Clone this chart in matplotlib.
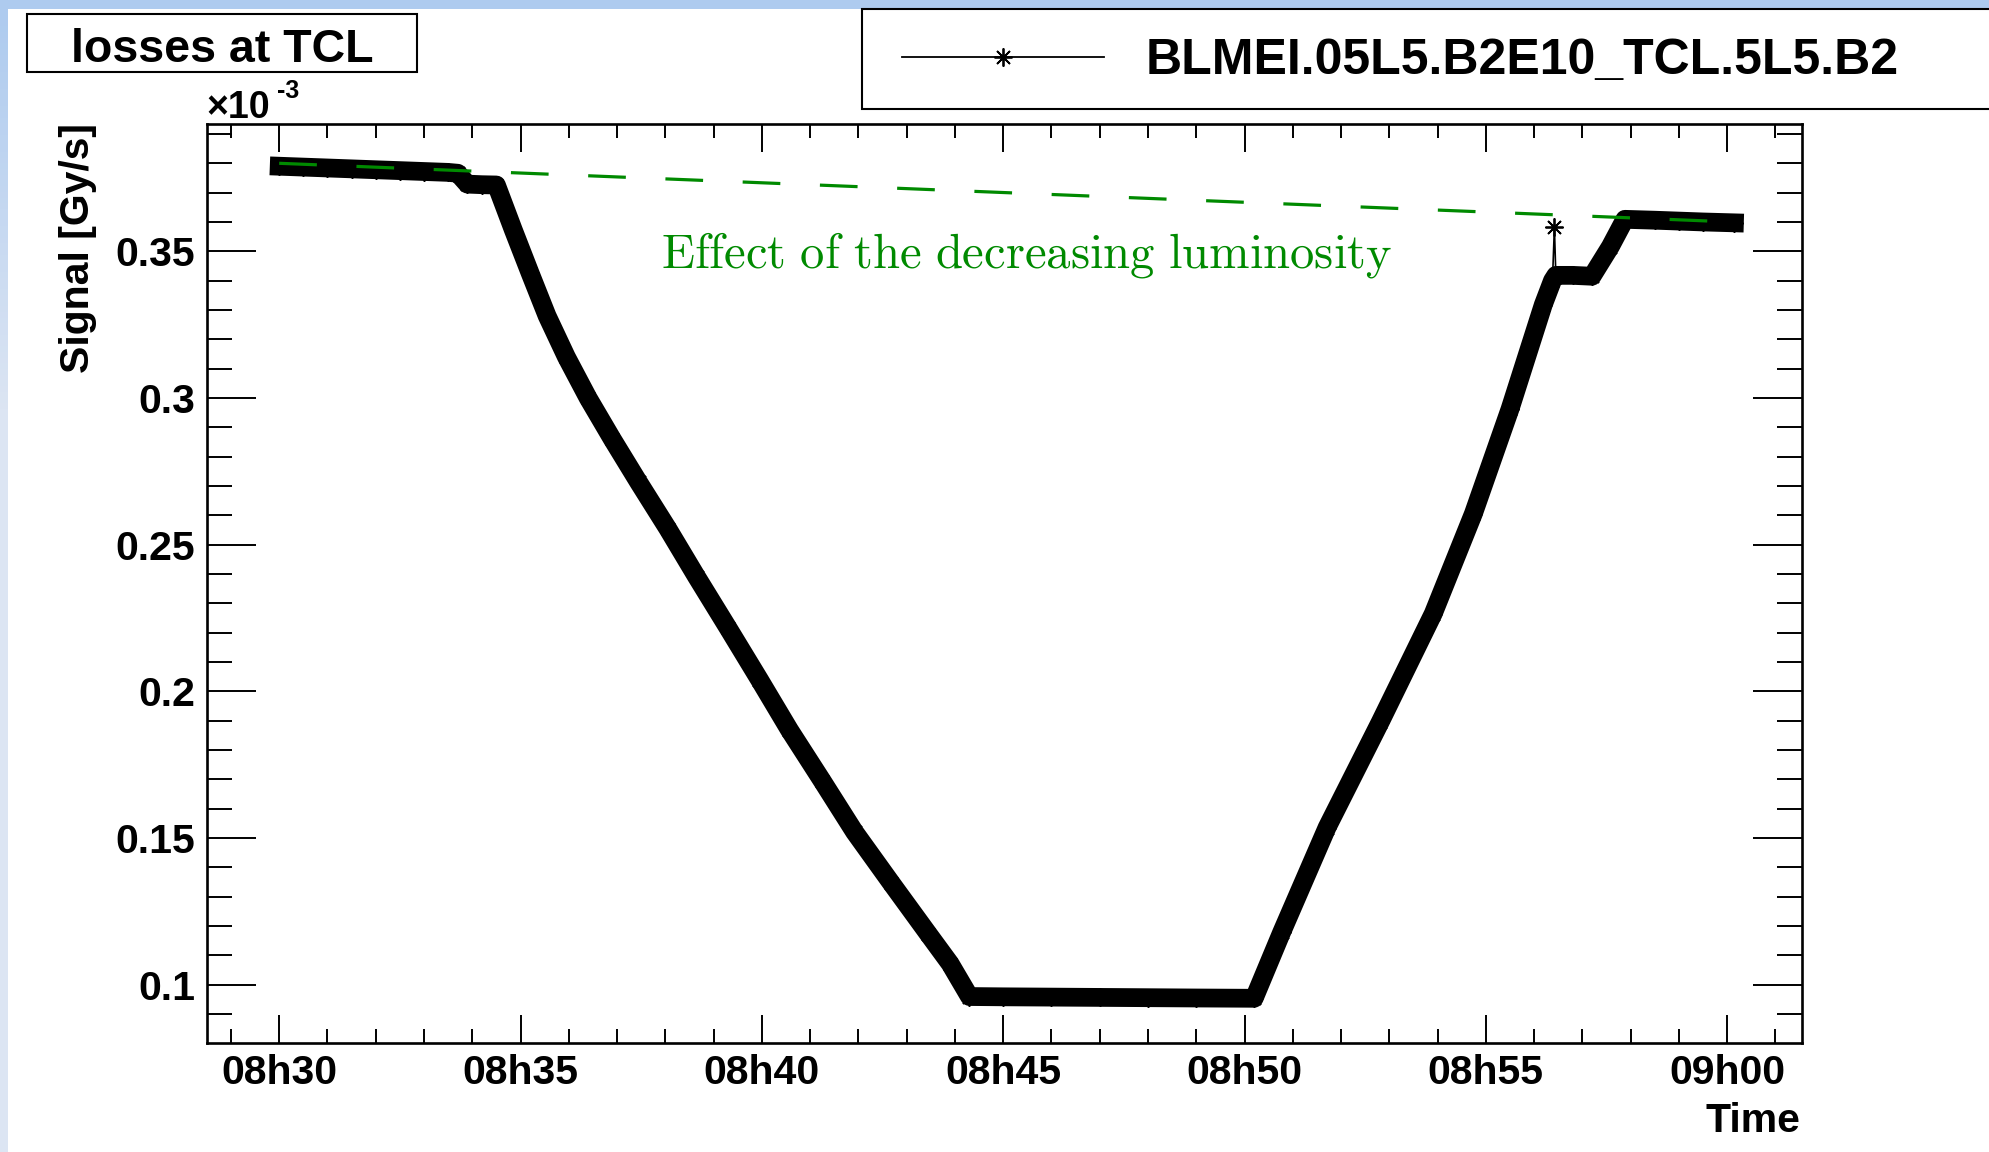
import numpy as np
import matplotlib
matplotlib.use("Agg")
import matplotlib.pyplot as plt
from matplotlib.patches import Rectangle
from matplotlib.lines import Line2D
from matplotlib.ticker import MultipleLocator, FixedLocator, FixedFormatter

# minutes after 08h30 and BLM signal in units of 1e-3 Gy/s
t_min = [0.0, 0.5, 1.0, 1.5, 2.0, 2.5, 3.0, 3.5, 3.7,
         3.9, 4.2, 4.5,
         4.85, 5.2, 5.55, 5.95, 6.4, 6.9, 7.45, 8.05, 8.65, 9.3, 9.95, 10.57,
         11.25, 11.92, 12.68, 13.45, 13.9, 14.3,
         15.0, 16.0, 17.0, 18.0, 19.0, 20.2,
         20.77, 21.71, 22.81, 23.91, 24.74, 25.5, 26.19, 26.38,
         26.42,
         26.45, 26.8, 27.2, 27.58, 27.88, 28.5, 29.0, 29.5, 30.15]
signal = [0.3790, 0.3787, 0.3784, 0.3781, 0.3778, 0.3775, 0.3772, 0.3769, 0.3766,
          0.3729, 0.3727, 0.3726,
          0.3573, 0.3425, 0.3280, 0.3140, 0.3000, 0.2860, 0.2712, 0.2555, 0.2390,
          0.2216, 0.2040, 0.1869, 0.1695, 0.1521, 0.1347, 0.1173, 0.1072, 0.0960,
          0.0959, 0.0958, 0.0957, 0.0956, 0.0955, 0.0954,
          0.1179, 0.1536, 0.1895, 0.2265, 0.2605, 0.2962, 0.3318, 0.3400,
          0.3582,
          0.3418, 0.3418, 0.3415, 0.3516, 0.3609, 0.3606, 0.3603, 0.3600, 0.3597]
spike_index = 44

# luminosity trend
lumi_t = [0.0, 30.1]
lumi_signal = [0.3800, 0.3600]

xtick_pos = [0, 5, 10, 15, 20, 25, 30]
xtick_labels = ["08h30", "08h35", "08h40", "08h45", "08h50", "08h55", "09h00"]
ytick_pos = [0.10, 0.15, 0.20, 0.25, 0.30, 0.35]
ytick_labels = ["0.1", "0.15", "0.2", "0.25", "0.3", "0.35"]

series_name = "BLMEI.05L5.B2E10_TCL.5L5.B2"
title = "losses at TCL"
note = r"$\mathrm{Effect\ of\ the\ decreasing\ luminosity}$"

W, H = 1990, 1152
plt.rcParams["font.family"] = "Liberation Sans"
plt.rcParams["font.weight"] = "bold"
plt.rcParams["mathtext.fontset"] = "cm"

fig = plt.figure(figsize=(W / 100, H / 100), dpi=100)
fig.patch.set_facecolor("white")

# canvas border strips
fig.add_artist(Rectangle((0, 1 - 9 / H), 1, 9 / H, transform=fig.transFigure,
                         facecolor="#aecbef", edgecolor="none", zorder=0))
strip = fig.add_axes([0, 0, 8 / W, 1 - 9 / H])
strip.axis("off")
top_c = np.array([0xae, 0xcb, 0xef]) / 255
bot_c = np.array([0xdc, 0xe5, 0xf3]) / 255
frac = np.clip(np.linspace(0, 1, 200) / 0.35, 0, 1)[:, None]
grad = top_c * (1 - frac) + bot_c * frac
strip.imshow(grad[:, None, :], aspect="auto", extent=[0, 1, 0, 1])

ax = fig.add_axes([207 / W, 1 - 1043 / H, (1802 - 207) / W, (1043 - 124) / H])

t = np.array(t_min)
s = np.array(signal)
band = np.ones(len(t), dtype=bool)
band[spike_index] = False

# thick band of densely sampled points
ax.plot(t[band], s[band], color="black", lw=13.5, solid_joinstyle="round",
        solid_capstyle="projecting", zorder=3)
ax.plot(t, s, color="black", lw=1.2, marker=(8, 2, 0), markersize=13,
        markeredgewidth=1.3, zorder=4)

ax.plot(lumi_t, lumi_signal, color="#008a00", lw=2.3, dashes=(11.8, 12.4), zorder=5)
ax.text(7.91, 0.3446, note, color="#008a00", fontsize=35, ha="left", va="baseline", zorder=6)

ax.set_xlim(-1.496, 31.55)
ax.set_ylim(0.08016, 0.39339)

ax.xaxis.set_major_locator(FixedLocator(xtick_pos))
ax.xaxis.set_major_formatter(FixedFormatter(xtick_labels))
ax.xaxis.set_minor_locator(MultipleLocator(1))
ax.yaxis.set_major_locator(FixedLocator(ytick_pos))
ax.yaxis.set_major_formatter(FixedFormatter(ytick_labels))
ax.yaxis.set_minor_locator(MultipleLocator(0.01))

ax.tick_params(axis="both", which="both", direction="in", top=True, right=True,
               width=1.4, labelsize=29.5, colors="black")
ax.tick_params(axis="x", which="major", length=20, pad=8)
ax.tick_params(axis="x", which="minor", length=10)
ax.tick_params(axis="y", which="major", length=35, pad=8.5)
ax.tick_params(axis="y", which="minor", length=18)
for lab in ax.get_xticklabels() + ax.get_yticklabels():
    lab.set_fontweight("bold")
for sp in ax.spines.values():
    sp.set_linewidth(1.9)

fig.text(78 / W, 1 - 123 / H, "Signal [Gy/s]", rotation=90, ha="center", va="top",
         fontsize=29.5, fontweight="bold")
fig.text(1800 / W, 1 - 1132 / H, "Time", ha="right", va="baseline",
         fontsize=29.5, fontweight="bold")
fig.text(206 / W, 1 - 118 / H, "\u00d710", ha="left", va="baseline",
         fontsize=27, fontweight="bold")
fig.text(277 / W, 1 - 98 / H, "-3", ha="left", va="baseline",
         fontsize=18, fontweight="bold")

# title box
fig.add_artist(Rectangle((27 / W, 1 - 71.5 / H), 390 / W, 58 / H, transform=fig.transFigure,
                         facecolor="white", edgecolor="black", lw=1.5))
fig.text(222 / W, 1 - 61.5 / H, title, ha="center", va="baseline",
         fontsize=33.5, fontweight="bold")

# legend box running off the right edge
fig.add_artist(Rectangle((862 / W, 1 - 109 / H), 1.2, 100 / H, transform=fig.transFigure,
                         facecolor="white", edgecolor="black", lw=1.5))
fig.add_artist(Line2D([902 / W, 1003 / W, 1104 / W], [1 - 57 / H] * 3,
                      transform=fig.transFigure, color="black", lw=1.3,
                      marker=(8, 2, 0), markersize=13, markeredgewidth=1.3, markevery=[1]))
fig.text(1146 / W, 1 - 74 / H, series_name, ha="left", va="baseline",
         fontsize=36, fontweight="bold")

fig.savefig("out.png", dpi=100)
